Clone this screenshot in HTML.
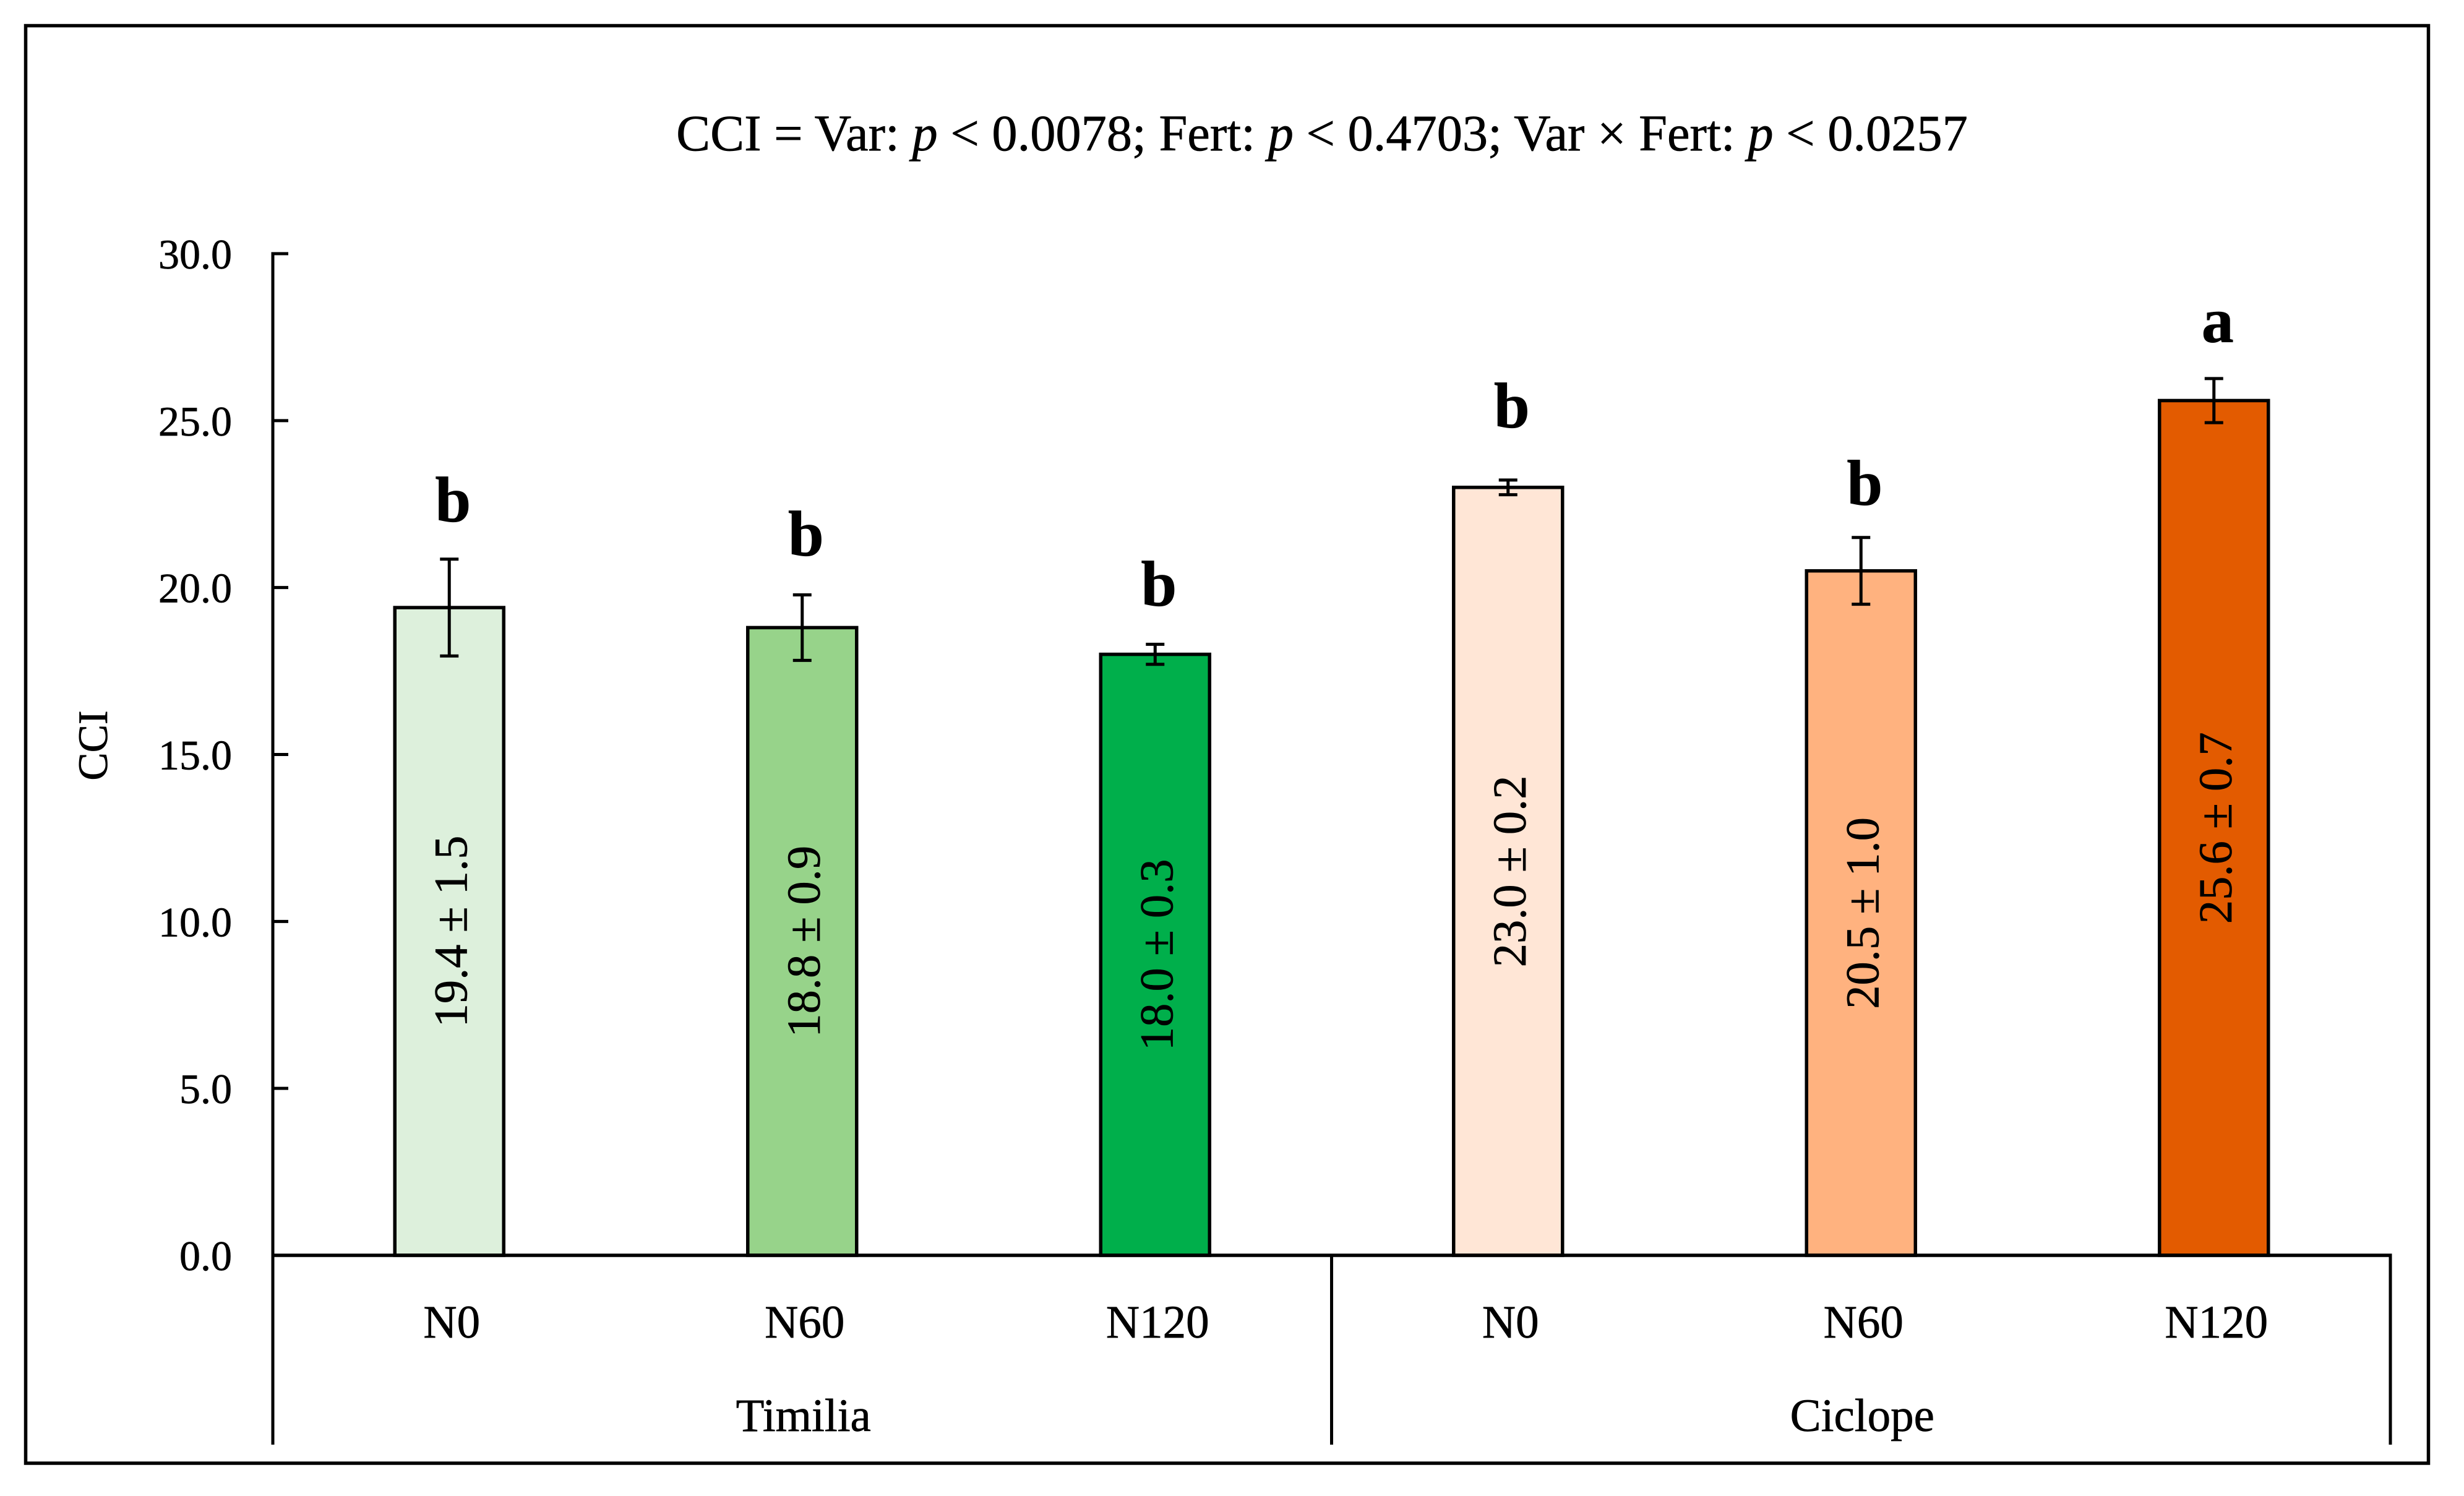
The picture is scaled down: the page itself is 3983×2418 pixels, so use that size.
<!DOCTYPE html>
<html lang="en">
<head>
<meta charset="utf-8">
<title>CCI by variety and nitrogen fertilisation</title>
<style>
html,body{margin:0;padding:0;background:#fff;width:3983px;height:2418px;overflow:hidden}
svg{display:block}
text{font-family:"Liberation Serif","DejaVu Serif",serif;fill:#000;stroke:#000;stroke-width:0.7px}
</style>
</head>
<body>
<svg id="chart" xmlns="http://www.w3.org/2000/svg" width="3983" height="2418" viewBox="0 0 3983 2418">
  <rect x="0" y="0" width="3983" height="2418" fill="#ffffff"/>
  <rect x="41.5" y="41.5" width="3884" height="2323.5" fill="none" stroke="#000" stroke-width="5.5"/>
  <text x="2137" y="243" font-size="82.4" text-anchor="middle">CCI = Var: <tspan font-style="italic">p</tspan> &lt; 0.0078; Fert: <tspan font-style="italic">p</tspan> &lt; 0.4703; Var × Fert: <tspan font-style="italic">p</tspan> &lt; 0.0257</text>
  <text x="0" y="0" font-size="68" text-anchor="middle" transform="translate(173 1205) rotate(-90)">CCI</text>
  <g id="marks"></g>
</svg>
<script>
const groups = ["Timilia", "Ciclope"];
const categories = ["N0", "N60", "N120", "N0", "N60", "N120"];
const means = [19.4, 18.8, 18.0, 23.0, 20.5, 25.6];
const errors = [1.45, 0.98, 0.3, 0.22, 1.0, 0.66];
const valueLabels = ["19.4 ± 1.5", "18.8 ± 0.9", "18.0 ± 0.3", "23.0 ± 0.2", "20.5 ± 1.0", "25.6 ± 0.7"];
const letters = ["b", "b", "b", "b", "b", "a"];
const letterGaps = [2.59, 2.17, 1.47, 1.8, 1.99, 1.75];
const yTicks = [0, 5, 10, 15, 20, 25, 30];
const yTickLabels = ["0.0", "5.0", "10.0", "15.0", "20.0", "25.0", "30.0"];
const fills = ["#DDF0DC", "#97D38A", "#00AF4B", "#FFE6D6", "#FFB27F", "#E35B00"];

const AXIS_LEFT = 441, AXIS_RIGHT = 3864, Y_ZERO = 2029, Y_TOP = 410, Y_MAX = 30;
const AXIS_BOTTOM = 2335, BAR_WIDTH = 176, CAP_HALF = 15, STROKE = 5.5;
const band = (AXIS_RIGHT - AXIS_LEFT) / categories.length;
function yScale(v) { return Y_ZERO - (v / Y_MAX) * (Y_ZERO - Y_TOP); }
function xScale(i) { return AXIS_LEFT + band * (i + 0.5); }

const marks = document.getElementById("marks");
const NS = "http://www.w3.org/2000/svg";
function make(tag, attrs) {
  const el = document.createElementNS(NS, tag);
  for (const k in attrs) el.setAttribute(k, attrs[k]);
  marks.appendChild(el);
  return el;
}
function line(x1, y1, x2, y2, w) {
  return make("line", { x1: x1, y1: y1, x2: x2, y2: y2, stroke: "#000", "stroke-width": w });
}
function label(str, x, y, size, anchor) {
  const el = make("text", { x: x, y: y, "font-size": size, "text-anchor": anchor });
  el.textContent = str;
  return el;
}

means.forEach(function (m, i) {
  const cx = xScale(i);
  const top = yScale(m);
  const bar = make("rect", { x: cx - BAR_WIDTH / 2, y: top, width: BAR_WIDTH, height: Y_ZERO - top, fill: fills[i], stroke: "#000", "stroke-width": STROKE });
  
  

  const stem = line(cx, yScale(m + errors[i]), cx, yScale(m - errors[i]), 5);
  
  
  const capTop = line(cx - CAP_HALF, yScale(m + errors[i]), cx + CAP_HALF, yScale(m + errors[i]), 5);
  
  
  const capBottom = line(cx - CAP_HALF, yScale(m - errors[i]), cx + CAP_HALF, yScale(m - errors[i]), 5);
  
  

  const midY = (top + Y_ZERO) / 2;
  const val = make("text", { x: 0, y: 0, "font-size": 76.5, "text-anchor": "middle", transform: "translate(" + (cx + 28) + " " + midY + ") rotate(-90)" });
  val.textContent = valueLabels[i];
  
  

  const sig = label(letters[i], cx + 6, yScale(m + letterGaps[i]), 104, "middle");
  sig.setAttribute("font-weight", "bold");
  
  

  const cat = label(categories[i], cx + 4, 2162, 75, "middle");
  
  
});

yTicks.forEach(function (t, i) {
  const y = yScale(t);
  const tick = line(AXIS_LEFT, y, AXIS_LEFT + 25, y, 5);
  
  
  const txt = label(yTickLabels[i], 375, y + 24, 68, "end");
  
  
});

const yAxis = line(AXIS_LEFT, Y_TOP - 2.5, AXIS_LEFT, AXIS_BOTTOM, 5);



const xAxis = line(AXIS_LEFT, Y_ZERO, AXIS_RIGHT + 2.5, Y_ZERO, 5.5);



const groupDivider = line(AXIS_LEFT + band * 3, Y_ZERO, AXIS_LEFT + band * 3, AXIS_BOTTOM, 5);



const rightEdge = line(AXIS_RIGHT, Y_ZERO, AXIS_RIGHT, AXIS_BOTTOM, 5);



groups.forEach(function (g, i) {
  const gx = AXIS_LEFT + band * 3 * (i + 0.5);
  const gl = label(g, gx + 2, 2313, 75, "middle");
  
  
});
</script>
</body>
</html>
